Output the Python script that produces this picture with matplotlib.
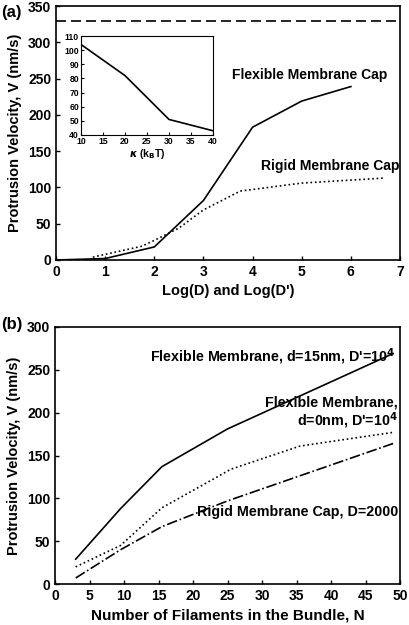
import numpy as np
import matplotlib.pyplot as plt

plt.rcParams['font.family'] = ['Liberation Sans', 'DejaVu Sans']
plt.rcParams['font.weight'] = 'bold'
plt.rcParams['axes.labelweight'] = 'bold'

# panel (a)
logD_flex = [0, 1, 2, 3, 4, 5, 6]
v_flex = [0, 2, 18, 82, 183, 219, 239]
logD_rigid = [0.75, 1.75, 2, 2.5, 3, 3.75, 5, 6.7]
v_rigid = [4, 19, 27, 44, 69, 95, 106, 113]
v_max = 330

# inset
kappa = [10, 20, 30, 40]
v_kappa = [104, 82, 51, 43]

# panel (b)
N_flex15 = [3, 9.5, 15.5, 25, 49]
v_flex15 = [29, 88, 137, 181, 269]
N_flex0 = [3, 9.5, 15.5, 25.5, 35.5, 49]
v_flex0 = [20, 45, 89, 134, 161, 177]
N_rigid = [3, 9.5, 15.5, 25, 49]
v_rigid_b = [7, 40, 67, 97, 164]

fig = plt.figure(figsize=(4.09, 6.25), dpi=100)
W, H = 409, 625

def box(l, t, r, b):
    return [l / W, 1 - b / H, (r - l) / W, (b - t) / H]

ax1 = fig.add_axes(box(56, 6, 400, 260))
ax1.plot(logD_flex, v_flex, 'k-', lw=1.2)
ax1.plot(logD_rigid, v_rigid, 'k:', lw=1.2)
ax1.axhline(v_max, color='k', ls=(0, (6, 3)), lw=1.2)
ax1.set_xlim(0, 7)
ax1.set_ylim(0, 350)
ax1.set_xticks(range(0, 8))
ax1.set_yticks(range(0, 351, 50))
ax1.set_xlabel("Log(D) and Log(D')", fontsize=10.5)
ax1.set_ylabel("Protrusion Velocity, V (nm/s)", fontsize=10.5)
ax1.text(5.17, 255, "Flexible Membrane Cap", ha='center', va='center', fontsize=10)
ax1.text(5.58, 130, "Rigid Membrane Cap", ha='center', va='center', fontsize=10)
fig.text(0.002, 1 - 12 / H, "(a)", fontsize=12, fontweight='bold', va='center')

axi = fig.add_axes(box(81, 36, 213, 135))
axi.plot(kappa, v_kappa, 'k-', lw=1.2)
axi.set_xlim(10, 40)
axi.set_ylim(40, 110)
axi.set_xticks(range(10, 41, 5))
axi.set_yticks(range(40, 111, 10))
axi.tick_params(labelsize=6.2, direction='in', length=2, pad=1.5)
axi.set_xlabel(r"$\kappa$ (k$_\mathbf{B}$T)", fontsize=7.5, labelpad=1)

ax2 = fig.add_axes(box(55, 327, 400, 584))
ax2.plot(N_flex15, v_flex15, 'k-', lw=1.2)
ax2.plot(N_flex0, v_flex0, 'k:', lw=1.2)
ax2.plot(N_rigid, v_rigid_b, 'k-.', lw=1.2)
ax2.set_xlim(0, 50)
ax2.set_ylim(0, 300)
ax2.set_xticks(range(0, 51, 5))
ax2.set_yticks(range(0, 301, 50))
ax2.set_xlabel("Number of Filaments in the Bundle, N", fontsize=11)
ax2.set_ylabel("Protrusion Velocity, V (nm/s)", fontsize=10.5)
ax2.text(49.3, 265, r"Flexible Membrane, d=15nm, D'=10$^\mathbf{4}$", ha='right', va='center', fontsize=10.3)
ax2.text(49.7, 199, "Flexible Membrane,\n" + r"d=0nm, D'=10$^\mathbf{4}$", ha='right', va='center',
         fontsize=10.3, linespacing=1.05)
ax2.text(49.7, 84, "Rigid Membrane Cap, D=2000", ha='right', va='center', fontsize=10.3)
fig.text(0.002, 1 - 325 / H, "(b)", fontsize=12, fontweight='bold', va='center')

for ax in (ax1, ax2):
    ax.tick_params(labelsize=10, direction='in', length=3, width=1)
    for s in ax.spines.values():
        s.set_linewidth(1.2)

fig.savefig("out.png", dpi=100)
